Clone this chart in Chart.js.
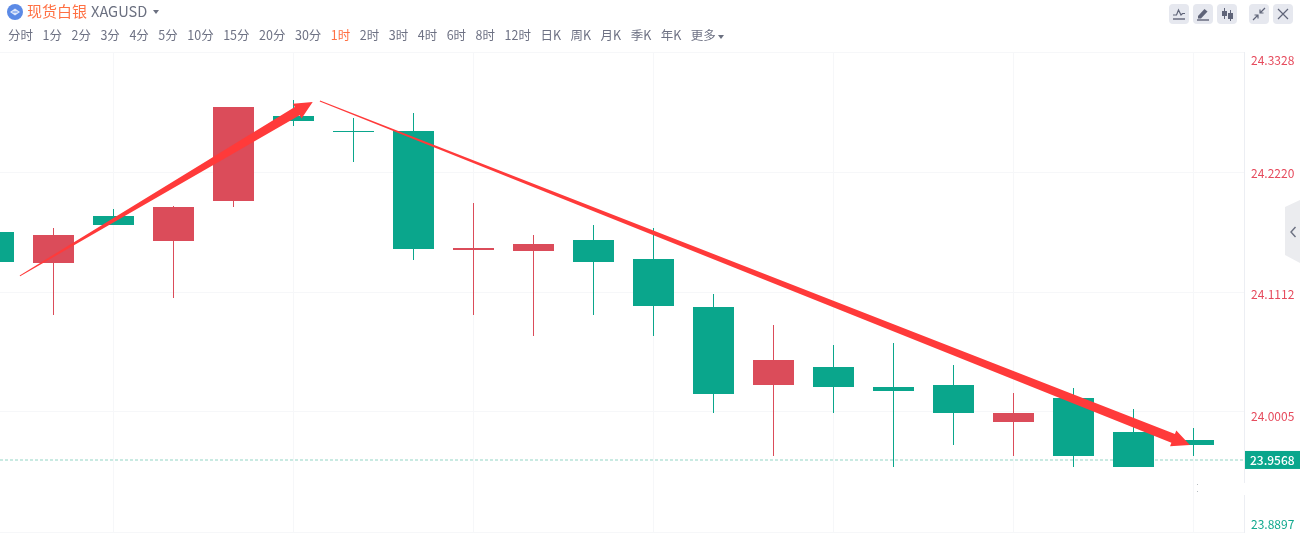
<!DOCTYPE html>
<html>
<head>
<meta charset="utf-8">
<title>现货白银 XAGUSD</title>
<script src="https://cdn.jsdelivr.net/npm/chart.js@4/dist/chart.umd.js"></script>
<style>
    html, body { margin: 0; padding: 0; background: #fff; overflow: hidden; }
    body { width: 1300px; height: 551px; position: relative; font-family: "Noto Sans CJK SC", "Noto Sans", sans-serif; }
    #myChart { position: absolute; left: 0; top: 0; }
    .abs { position: absolute; white-space: nowrap; }
    #name { left: 27px; top: 0; font-size: 15px; line-height: 22px; color: #ff7043; }
    #symbol { left: 91px; top: 0; font-size: 14.6px; line-height: 22px; color: #6b7080; }
    #periods { left: 8px; top: 26px; display: flex; font-size: 12.5px; line-height: 18px; color: #6e7284; }
    #periods span { margin-right: 9.5px; }
    #periods .active { color: #ff7043; }
    .btn { top: 4px; width: 20px; height: 20px; border-radius: 4px; background: #e6e8ef; }
    .btn svg { display: block; }
    #gap { left: 1198px; top: 483px; width: 48px; height: 12px; background: #fff; }
    .dot { left: 1197px; width: 1px; height: 1px; background: #b5bcc0; }
</style>
</head>
<body>
<canvas id="myChart" width="1300" height="551"></canvas>

<svg class="abs" style="left:7px;top:4px" width="16" height="16" viewBox="0 0 16 16">
    <circle cx="8" cy="8" r="8" fill="#5b8ae6"/>
    <path d="M3 8 L8 4.5 L13 8 L8 11.5 Z" fill="#dfe8fb"/>
    <path d="M5.5 8 L10.5 8" stroke="#5b8ae6" stroke-width="1"/>
</svg>
<div class="abs" id="name">现货白银</div>
<div class="abs" id="symbol">XAGUSD</div>
<svg class="abs" style="left:153px;top:10px" width="6" height="4"><path d="M0 0 H6 L3 4 Z" fill="#6b7080"/></svg>

<div class="abs" id="periods"></div>
<svg class="abs" style="left:718px;top:35px" width="6" height="4"><path d="M0 0 H6 L3 4 Z" fill="#6b7080"/></svg>

<div class="abs btn" style="left:1169px"><svg width="20" height="20"><path d="M4 11 L7.5 11 L9.5 6 L12 11 L13.5 9.5 L16 9.5" fill="none" stroke="#5f6478" stroke-width="1.2"/><path d="M4 15 H16" stroke="#5f6478" stroke-width="1.4"/></svg></div>
<div class="abs btn" style="left:1193px"><svg width="20" height="20"><path d="M5 12 L11.5 5 L14.5 7.5 L8 14.5 L5 14.5 Z" fill="#5f6478"/><path d="M4 16 H16" stroke="#5f6478" stroke-width="1.4"/></svg></div>
<div class="abs btn" style="left:1217px"><svg width="20" height="20"><path d="M7.5 4 V15 M13.5 6 V17" stroke="#5f6478"/><rect x="5" y="7" width="5" height="5" fill="#5f6478"/><rect x="11" y="9" width="5" height="6" fill="#5f6478"/></svg></div>
<div class="abs btn" style="left:1249px"><svg width="20" height="20"><path d="M16 4 L11 9 M11 5.5 V9 H14.5 M4 16 L9 11 M5.5 11 H9 V14.5" fill="none" stroke="#5f6478" stroke-width="1.2"/></svg></div>
<div class="abs btn" style="left:1273px"><svg width="20" height="20"><path d="M5 5 L15 15 M15 5 L5 15" stroke="#5f6478" stroke-width="1.2"/></svg></div>

<svg class="abs" style="left:1285px;top:200px" width="15" height="63">
    <path d="M15 0 L0 7 V55 L15 63 Z" fill="#ebecef"/>
    <path d="M10.5 27 L6 32 L10.5 37" fill="none" stroke="#6b7080" stroke-width="1.4"/>
</svg>

<div class="abs" id="gap"></div>
<div class="abs dot" style="top:484px"></div>
<div class="abs dot" style="top:491px"></div>

<script>
// Candle data, one entry per hour bar
var candleIndex = [0, 1, 2, 3, 4, 5, 6, 7, 8, 9, 10, 11, 12, 13, 14, 15, 16, 17, 18, 19, 20];
var opens = [24.1667, 24.1381, 24.1814, 24.1584, 24.1953, 24.2738, 24.2599, 24.2599, 24.1501, 24.1491, 24.1593, 24.1417, 24.0974, 24.0254, 24.0420, 24.0236, 24.0254, 23.9913, 24.0134, 23.9820, 23.9747];
var closes = [24.1390, 24.1639, 24.1731, 24.1897, 24.2821, 24.2691, 24.2590, 24.1510, 24.1519, 24.1556, 24.1390, 24.0984, 24.0171, 24.0485, 24.0236, 24.0199, 23.9996, 23.9996, 23.9599, 23.9497, 23.9700];
var highs = [24.1704, 24.1704, 24.1879, 24.1907, 24.2821, 24.2885, 24.2719, 24.2765, 24.1934, 24.1639, 24.1731, 24.1704, 24.1094, 24.0808, 24.0624, 24.0642, 24.0439, 24.0180, 24.0227, 24.0033, 23.9857];
var lows = [24.1390, 24.0900, 24.1731, 24.1057, 24.1897, 24.2645, 24.2313, 24.1408, 24.0900, 24.0707, 24.0900, 24.0707, 23.9996, 23.9599, 23.9996, 23.9497, 23.9700, 23.9599, 23.9497, 23.9497, 23.9599];

var priceTicks = [23.8897, 24.0005, 24.1112, 24.2220, 24.3328];
var gridIndexes = [2, 5, 8, 11, 14, 17, 20];
var lastPrice = 23.9568;
var lastPriceLine = 23.9562; // where the dashes and badge actually sit in the picture

// Drawn trend arrows: [bar index, price]
var arrowUpStart = [0.44, 24.1261];
var arrowUpEnd = [5.32, 24.2867];
var arrowDownStart = [5.44, 24.2876];
var arrowDownEnd = [19.94, 23.9700];

var periodLabels = ['分时', '1分', '2分', '3分', '4分', '5分', '10分', '15分', '20分', '30分', '1时', '2时', '3时', '4时', '6时', '8时', '12时', '日K', '周K', '月K', '季K', '年K', '更多'];
var activePeriod = '1时';

var UP = '#db4c5a';
var DOWN = '#0aa68c';
var xMin = 6.5 / 60;
var xMax = 1250.5 / 60;

periodLabels.forEach(function(label) {
    var span = document.createElement('span');
    span.textContent = label;
    if (label === activePeriod) span.className = 'active';
    document.getElementById('periods').appendChild(span);
});

var candleColors = candleIndex.map(function(i) {
    return closes[i] > opens[i] ? UP : DOWN;
});

function drawArrow(ctx, x1, y1, x2, y2) {
    var len = Math.sqrt((x2 - x1) * (x2 - x1) + (y2 - y1) * (y2 - y1));
    var ux = (x2 - x1) / len, uy = (y2 - y1) / len;
    var nx = -uy, ny = ux;
    var bx = x2 - ux * 18, by = y2 - uy * 18;
    ctx.fillStyle = '#ff3a3a';
    ctx.beginPath();
    ctx.moveTo(x1 + nx * 0.5, y1 + ny * 0.5);
    ctx.lineTo(bx + nx * 4.8, by + ny * 4.8);
    ctx.lineTo(bx + nx * 8.5, by + ny * 8.5);
    ctx.lineTo(x2, y2);
    ctx.lineTo(bx - nx * 8.5, by - ny * 8.5);
    ctx.lineTo(bx - nx * 4.8, by - ny * 4.8);
    ctx.lineTo(x1 - nx * 0.5, y1 - ny * 0.5);
    ctx.closePath();
    ctx.fill();
}

// Arrows, price labels and the last price badge sit on top of the candles
var overlay = {
    id: 'overlay',
    afterDraw: function(chart) {
        var ctx = chart.ctx, x = chart.scales.x, y = chart.scales.y;
        ctx.save();
        drawArrow(ctx, x.getPixelForValue(arrowUpStart[0]), y.getPixelForValue(arrowUpStart[1]),
            x.getPixelForValue(arrowUpEnd[0]), y.getPixelForValue(arrowUpEnd[1]));
        drawArrow(ctx, x.getPixelForValue(arrowDownStart[0]), y.getPixelForValue(arrowDownStart[1]),
            x.getPixelForValue(arrowDownEnd[0]), y.getPixelForValue(arrowDownEnd[1]));

        ctx.font = '12px "Noto Sans CJK SC", "Noto Sans", sans-serif';
        ctx.textBaseline = 'middle';
        ctx.textAlign = 'left';
        // labels hang inside the plot at both ends, so they do not centre on their grid line
        var shifts = [-8, 4, 2, 1, 8];
        priceTicks.forEach(function(p, i) {
            ctx.fillStyle = p > lastPrice ? '#e64a5c' : '#0fa88d';
            ctx.fillText(p.toFixed(4), 1251, y.getPixelForValue(p) + shifts[i]);
        });

        var py = y.getPixelForValue(lastPriceLine);
        ctx.fillStyle = DOWN;
        ctx.fillRect(1245, py - 9, 55, 18);
        ctx.fillStyle = '#fff';
        ctx.font = '500 12px "Noto Sans CJK SC", "Noto Sans", sans-serif';
        ctx.fillText(lastPrice.toFixed(4), 1250, py + 0.5);
        ctx.restore();
    }
};

var ctx = document.getElementById('myChart').getContext('2d');
var myChart = new Chart(ctx, {
    type: 'bar',
    data: {
        datasets: [{
            label: 'Body',
            order: 1,
            data: candleIndex.map(function(i) {
                return { x: i, y: [opens[i], closes[i]] };
            }),
            backgroundColor: candleColors,
            barThickness: 41,
            inflateAmount: 0,
            grouped: false
        }, {
            label: 'Wick',
            order: 2,
            data: candleIndex.map(function(i) {
                return { x: i, y: [lows[i], highs[i]] };
            }),
            backgroundColor: candleColors,
            barThickness: 1,
            inflateAmount: 0,
            grouped: false
        }, {
            type: 'line',
            label: 'Last',
            order: 3,
            data: [{ x: xMin, y: lastPriceLine }, { x: xMax, y: lastPriceLine }],
            borderColor: '#c9eae2',
            borderWidth: 2,
            borderDash: [3, 2],
            pointRadius: 0
        }]
    },
    options: {
        responsive: false,
        animation: false,
        layout: { padding: { left: 0, top: 52, right: 56, bottom: 19 } },
        plugins: { legend: { display: false }, tooltip: { enabled: false } },
        scales: {
            x: {
                type: 'linear',
                offset: false,
                min: xMin,
                max: xMax,
                afterBuildTicks: function(scale) {
                    scale.ticks = gridIndexes.map(function(v) { return { value: v }; });
                },
                ticks: { display: false },
                border: { display: false },
                grid: { offset: false, color: '#f6f7f9', lineWidth: 1, drawTicks: false }
            },
            y: {
                position: 'right',
                min: priceTicks[0],
                max: priceTicks[priceTicks.length - 1],
                afterBuildTicks: function(scale) {
                    scale.ticks = priceTicks.map(function(v) { return { value: v }; });
                },
                ticks: { display: false },
                border: { display: true, color: '#eceef3' },
                grid: { color: '#f6f7f9', lineWidth: 1, drawTicks: false }
            }
        }
    },
    plugins: [overlay]
});
</script>
</body>
</html>
